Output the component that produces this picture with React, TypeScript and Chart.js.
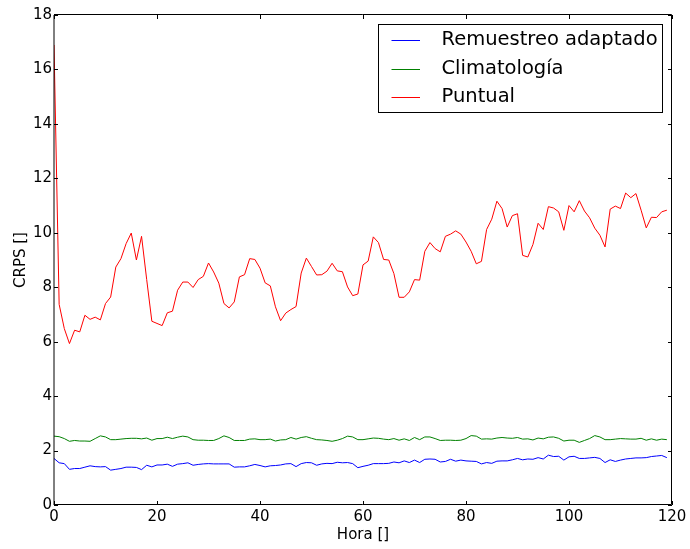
import React, { useEffect, useRef } from "react";
import { Chart, registerables } from "chart.js";

Chart.register(...registerables);

// Forecast hour (x axis)
const hours: number[] = Array.from({ length: 120 }, (_, i) => i);

// CRPS per forecast hour, one array per method
const remuestreo: number[] = [
  1.71, 1.55, 1.52, 1.31, 1.34, 1.34, 1.39, 1.44, 1.41, 1.4,
  1.41, 1.28, 1.31, 1.34, 1.39, 1.39, 1.38, 1.3, 1.46, 1.4,
  1.47, 1.47, 1.5, 1.42, 1.5, 1.52, 1.55, 1.46, 1.49, 1.51,
  1.52, 1.51, 1.51, 1.51, 1.51, 1.39, 1.4, 1.4, 1.44, 1.49,
  1.45, 1.4, 1.44, 1.45, 1.47, 1.51, 1.52, 1.41, 1.52, 1.56,
  1.55, 1.46, 1.51, 1.53, 1.52, 1.57, 1.55, 1.56, 1.52, 1.37,
  1.42, 1.46, 1.52, 1.52, 1.52, 1.53, 1.58, 1.55, 1.62, 1.56,
  1.65, 1.56, 1.68, 1.69, 1.68, 1.58, 1.6, 1.68, 1.61, 1.65,
  1.62, 1.61, 1.6, 1.51, 1.56, 1.53, 1.61, 1.62, 1.62, 1.66,
  1.71, 1.66, 1.69, 1.68, 1.74, 1.69, 1.83, 1.78, 1.79, 1.65,
  1.77, 1.79, 1.71, 1.71, 1.73, 1.75, 1.71, 1.56, 1.66, 1.6,
  1.65, 1.69, 1.71, 1.73, 1.73, 1.74, 1.78, 1.8, 1.82, 1.74,
];

const climatologia: number[] = [
  2.53, 2.51, 2.44, 2.34, 2.37, 2.35, 2.35, 2.34, 2.44, 2.54,
  2.5, 2.4, 2.4, 2.42, 2.44, 2.45, 2.45, 2.43, 2.46, 2.38,
  2.44, 2.44, 2.49, 2.44, 2.49, 2.53, 2.5, 2.4, 2.38, 2.38,
  2.37, 2.37, 2.44, 2.54, 2.48, 2.37, 2.37, 2.37, 2.42, 2.43,
  2.4, 2.4, 2.42, 2.35, 2.39, 2.4, 2.48, 2.42, 2.48, 2.51,
  2.45, 2.4, 2.39, 2.37, 2.34, 2.38, 2.44, 2.53, 2.5, 2.4,
  2.4, 2.43, 2.46, 2.45, 2.42, 2.4, 2.44, 2.38, 2.43, 2.37,
  2.48, 2.4, 2.5, 2.5, 2.44, 2.37, 2.38, 2.38, 2.37, 2.38,
  2.44, 2.55, 2.53, 2.42, 2.43, 2.42, 2.46, 2.48, 2.46, 2.45,
  2.48, 2.42, 2.43, 2.39, 2.46, 2.43, 2.49, 2.5, 2.45, 2.35,
  2.38, 2.38, 2.3, 2.37, 2.44, 2.55, 2.5, 2.4, 2.4, 2.42,
  2.44, 2.43, 2.42, 2.42, 2.45, 2.38, 2.43, 2.38, 2.42, 2.4,
];

const puntual: number[] = [
  16.9, 7.37, 6.48, 5.93, 6.42, 6.36, 6.97, 6.82, 6.9, 6.8,
  7.4, 7.64, 8.74, 9.05, 9.6, 9.99, 9.0, 9.87, 8.28, 6.75,
  6.67, 6.59, 7.06, 7.12, 7.89, 8.19, 8.19, 7.99, 8.28, 8.4,
  8.89, 8.56, 8.15, 7.4, 7.24, 7.46, 8.38, 8.46, 9.05, 9.02,
  8.7, 8.16, 8.05, 7.28, 6.77, 7.05, 7.18, 7.29, 8.52, 9.07,
  8.76, 8.45, 8.46, 8.59, 8.88, 8.6, 8.57, 8.01, 7.69, 7.75,
  8.82, 8.96, 9.85, 9.64, 9.02, 9.0, 8.5, 7.63, 7.63, 7.83,
  8.28, 8.26, 9.32, 9.64, 9.42, 9.3, 9.87, 9.95, 10.07, 9.95,
  9.66, 9.32, 8.86, 8.95, 10.12, 10.5, 11.16, 10.89, 10.21, 10.63,
  10.7, 9.17, 9.11, 9.57, 10.35, 10.12, 10.96, 10.91, 10.77, 10.09,
  11.0, 10.77, 11.18, 10.8, 10.55, 10.17, 9.91, 9.48, 10.87, 10.98,
  10.89, 11.46, 11.29, 11.44, 10.83, 10.18, 10.57, 10.56, 10.77, 10.83,
];

const seriesLabels: string[] = ["Remuestreo adaptado", "Climatología", "Puntual"];
const seriesColors: string[] = ["#0000ff", "#008000", "#ff0000"];

const FONT = "'DejaVu Sans', sans-serif";

// Frame on all four sides with inward-pointing tick marks
const framePlugin = {
  id: "frameTicks",
  afterDraw(chart: any) {
    const { ctx, chartArea: a, scales } = chart;
    const len = 4;
    ctx.save();
    ctx.strokeStyle = "#000";
    ctx.lineWidth = 1;
    ctx.beginPath();
    for (const t of scales.x.ticks) {
      const px = Math.round(scales.x.getPixelForValue(t.value)) + 0.5;
      ctx.moveTo(px, a.bottom);
      ctx.lineTo(px, a.bottom - len);
      ctx.moveTo(px, a.top);
      ctx.lineTo(px, a.top + len);
    }
    for (const t of scales.y.ticks) {
      const py = Math.round(scales.y.getPixelForValue(t.value)) + 0.5;
      ctx.moveTo(a.left, py);
      ctx.lineTo(a.left + len, py);
      ctx.moveTo(a.right, py);
      ctx.lineTo(a.right - len, py);
    }
    ctx.stroke();
    ctx.beginPath();
    ctx.moveTo(a.left, a.bottom - 0.5);
    ctx.lineTo(a.right - 0.5, a.bottom - 0.5);
    ctx.lineTo(a.right - 0.5, a.top - 0.5);
    ctx.lineTo(a.left, a.top - 0.5);
    ctx.stroke();
    ctx.beginPath();
    ctx.moveTo(a.left, a.top);
    ctx.lineTo(a.left, a.bottom);
    ctx.stroke();
    ctx.restore();
  },
};

// Boxed legend in the upper-right corner of the plot area
const legendPlugin = {
  id: "boxLegend",
  afterDraw(chart: any) {
    const { ctx, chartArea: a } = chart;
    const sets = chart.data.datasets;
    ctx.save();
    ctx.font = `19.5px ${FONT}`;
    const w = 284;
    const h = 88;
    const right = a.right - 10;
    const left = right - w;
    const top = a.top + 9;
    ctx.fillStyle = "#fff";
    ctx.fillRect(left, top, w, h);
    ctx.strokeStyle = "#000";
    ctx.lineWidth = 1;
    ctx.strokeRect(left + 0.5, top + 0.5, w, h);
    sets.forEach((d: any, i: number) => {
      const y = top + 16 + i * 28.7;
      ctx.strokeStyle = d.borderColor;
      ctx.beginPath();
      ctx.moveTo(left + 13.5, Math.round(y) + 0.5);
      ctx.lineTo(left + 42, Math.round(y) + 0.5);
      ctx.stroke();
      ctx.fillStyle = "#000";
      ctx.textBaseline = "middle";
      ctx.textAlign = "left";
      ctx.fillText(d.label, left + 63.5, y);
    });
    ctx.restore();
  },
};

export default function App() {
  const canvasRef = useRef<HTMLCanvasElement | null>(null);

  useEffect(() => {
    document.body.style.margin = "0";
    const canvas = canvasRef.current;
    if (!canvas) return;
    const values = [remuestreo, climatologia, puntual];
    const chart = new Chart(canvas, {
      type: "line",
      data: {
        labels: hours,
        datasets: values.map((v, i) => ({
          label: seriesLabels[i],
          data: v,
          borderColor: seriesColors[i],
          backgroundColor: seriesColors[i],
          borderWidth: 1,
          pointRadius: 0,
          tension: 0,
          fill: false,
        })),
      },
      options: {
        animation: false,
        responsive: false,
        maintainAspectRatio: false,
        devicePixelRatio: 1,
        layout: { padding: { top: 15, right: 18, left: 0, bottom: 0 } },
        plugins: { legend: { display: false }, tooltip: { enabled: false } },
        scales: {
          x: {
            type: "linear",
            min: 0,
            max: 120,
            grid: { display: false, drawTicks: false },
            border: { display: false },
            ticks: {
              stepSize: 20,
              padding: 3,
              color: "#000",
              maxRotation: 0,
              font: { family: FONT, size: 15 },
            },
            title: {
              display: true,
              text: "Hora []",
              color: "#000",
              font: { family: FONT, size: 15 },
              padding: { top: 0, bottom: 5 },
            },
            afterFit(scale: any) {
              scale.height = 44;
            },
          },
          y: {
            type: "linear",
            min: 0,
            max: 18,
            grid: { display: false, drawTicks: false },
            border: { display: false },
            ticks: {
              stepSize: 2,
              padding: 2,
              color: "#000",
              font: { family: FONT, size: 15 },
            },
            title: {
              display: true,
              text: "CRPS []",
              color: "#000",
              font: { family: FONT, size: 15 },
              padding: { top: 12, bottom: 0 },
            },
            afterFit(scale: any) {
              scale.width = 54;
            },
          },
        },
      },
      plugins: [framePlugin, legendPlugin],
    });
    return () => chart.destroy();
  }, []);

  return (
    <div style={{ width: 690, height: 549, background: "#fff" }}>
      <canvas ref={canvasRef} width={690} height={549} style={{ display: "block" }} />
    </div>
  );
}
